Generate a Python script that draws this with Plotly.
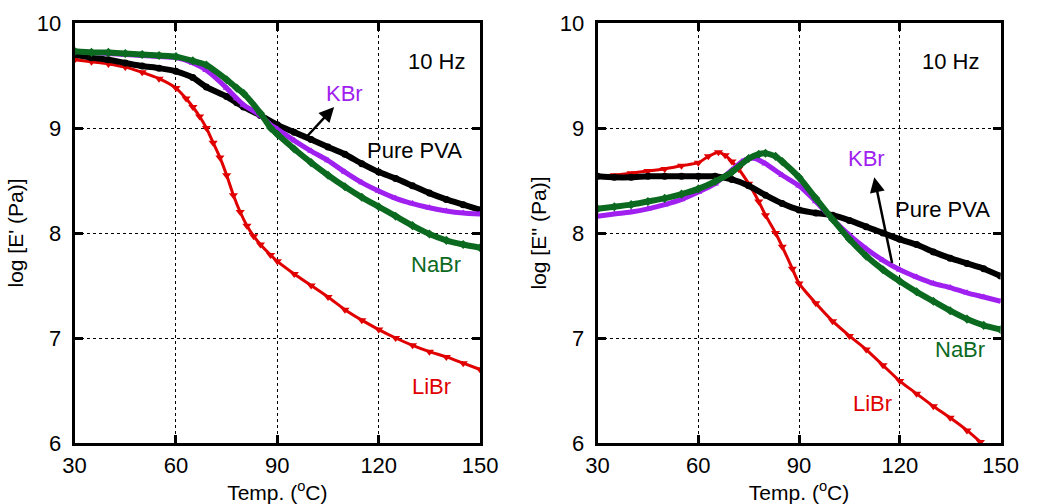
import plotly.graph_objects as go

# ---------------- data ----------------
# Left panel: log E'
pva_T1 = [30, 35, 40, 45, 50, 55, 60, 65, 69, 75, 78, 80, 85, 90, 95, 100, 105, 110, 115, 120, 125, 130, 135, 140, 145, 150]
pva_E1 = [9.70, 9.67, 9.65, 9.62, 9.59, 9.57, 9.54, 9.48, 9.39, 9.30, 9.24, 9.20, 9.12, 9.03, 8.96, 8.89, 8.82, 8.75, 8.66, 8.58, 8.52, 8.45, 8.38, 8.32, 8.27, 8.22]

na_T1 = [30, 35, 40, 45, 50, 55, 60, 65, 69, 75, 78, 80, 85, 88, 90, 95, 100, 105, 110, 115, 120, 125, 130, 135, 140, 145, 150]
na_E1 = [9.73, 9.72, 9.72, 9.71, 9.70, 9.69, 9.68, 9.64, 9.60, 9.46, 9.38, 9.33, 9.14, 9.00, 8.94, 8.80, 8.67, 8.55, 8.44, 8.34, 8.25, 8.16, 8.07, 7.99, 7.93, 7.89, 7.86]

k_T1 = [30, 35, 40, 45, 50, 55, 60, 65, 69, 75, 78, 80, 85, 88, 90, 95, 100, 105, 110, 115, 120, 125, 130, 135, 140, 145, 150]
k_E1 = [9.73, 9.72, 9.71, 9.70, 9.69, 9.68, 9.67, 9.62, 9.55, 9.38, 9.28, 9.22, 9.12, 9.03, 8.99, 8.88, 8.78, 8.69, 8.58, 8.48, 8.40, 8.33, 8.28, 8.24, 8.21, 8.19, 8.18]

li_T1 = [30, 35, 40, 45, 50, 55, 60, 63, 65, 67, 69, 71, 73, 75, 77, 79, 81, 83, 85, 88, 90, 95, 100, 105, 110, 115, 120, 125, 130, 135, 140, 145, 150]
li_E1 = [9.65, 9.63, 9.61, 9.58, 9.53, 9.47, 9.38, 9.28, 9.20, 9.11, 9.00, 8.86, 8.72, 8.55, 8.36, 8.20, 8.07, 7.97, 7.89, 7.79, 7.73, 7.61, 7.50, 7.39, 7.27, 7.17, 7.08, 7.00, 6.93, 6.87, 6.82, 6.76, 6.70]

# Right panel: log E''
pva_T2 = [30, 35, 40, 45, 50, 55, 60, 65, 70, 75, 80, 85, 90, 95, 100, 105, 110, 115, 120, 125, 130, 135, 140, 145, 150]
pva_E2 = [8.54, 8.53, 8.53, 8.54, 8.54, 8.54, 8.54, 8.54, 8.51, 8.45, 8.36, 8.28, 8.22, 8.19, 8.17, 8.12, 8.06, 8.00, 7.94, 7.89, 7.82, 7.76, 7.71, 7.66, 7.59]

na_T2 = [30, 35, 40, 45, 50, 55, 60, 65, 70, 75, 78, 80, 83, 85, 90, 95, 100, 105, 110, 115, 120, 125, 130, 135, 140, 145, 150]
na_E2 = [8.23, 8.25, 8.27, 8.30, 8.33, 8.37, 8.42, 8.49, 8.58, 8.71, 8.75, 8.76, 8.73, 8.68, 8.53, 8.33, 8.13, 7.94, 7.78, 7.65, 7.54, 7.44, 7.35, 7.26, 7.18, 7.12, 7.08]

k_T2 = [30, 35, 40, 45, 50, 55, 60, 65, 70, 73, 75, 77, 80, 85, 90, 95, 100, 105, 110, 115, 120, 125, 130, 135, 140, 145, 150]
k_E2 = [8.16, 8.18, 8.20, 8.23, 8.27, 8.32, 8.39, 8.47, 8.60, 8.68, 8.71, 8.71, 8.66, 8.55, 8.45, 8.30, 8.13, 7.98, 7.85, 7.74, 7.65, 7.58, 7.52, 7.48, 7.43, 7.39, 7.35]

li_T2 = [30, 35, 40, 45, 50, 55, 60, 63, 66, 68, 70, 72, 75, 78, 80, 83, 85, 88, 90, 95, 100, 105, 110, 115, 120, 125, 130, 135, 140, 144]
li_E2 = [8.54, 8.55, 8.57, 8.59, 8.61, 8.64, 8.67, 8.73, 8.77, 8.74, 8.68, 8.61, 8.47, 8.30, 8.17, 8.00, 7.87, 7.66, 7.52, 7.33, 7.16, 7.02, 6.89, 6.74, 6.59, 6.47, 6.35, 6.24, 6.12, 6.01]

x_ticks = [30, 60, 90, 120, 150]
y_ticks = [6, 7, 8, 9, 10]

BLACK = "#000000"
GREEN = "#0b6a1f"
PURPLE = "#a020f0"
RED = "#e00000"
FONT = "Liberation Sans, Arial, sans-serif"
FS = 22

fig = go.Figure()

def add(T, E, color, symbol, msize, lw, xa, ya):
    fig.add_trace(go.Scatter(
        x=T, y=E, mode="lines+markers", xaxis=xa, yaxis=ya,
        line=dict(color=color, width=lw, shape="spline", smoothing=0.6),
        marker=dict(color=color, symbol=symbol, size=msize),
        showlegend=False, cliponaxis=True))

for xa, ya, sets in [
    ("x", "y", [(li_T1, li_E1, RED, "triangle-down", 8, 3),
                (pva_T1, pva_E1, BLACK, "circle", 7, 6),
                (k_T1, k_E1, PURPLE, "triangle-up", 7, 5),
                (na_T1, na_E1, GREEN, "diamond", 7, 6)]),
    ("x2", "y2", [(li_T2, li_E2, RED, "triangle-down", 8, 3),
                  (pva_T2, pva_E2, BLACK, "circle", 7, 6),
                  (k_T2, k_E2, PURPLE, "triangle-up", 7, 5),
                  (na_T2, na_E2, GREEN, "diamond", 7, 6)]),
]:
    for T, E, c, s, ms, lw in sets:
        add(T, E, c, s, ms, lw, xa, ya)

axis_common = dict(
    showline=True, linecolor="black", linewidth=3, mirror="ticks",
    ticks="inside", ticklen=8, tickwidth=3, tickcolor="black",
    showgrid=True, gridcolor="black", gridwidth=1, griddash="dot",
    zeroline=False, tickfont=dict(family=FONT, size=FS, color="black"),
)

xt = dict(axis_common, range=[30, 150], tickvals=x_ticks, ticktext=[str(v) for v in x_ticks],
          ticklabelstandoff=1,
          title=dict(text="Temp. (<sup>o</sup>C)", font=dict(family=FONT, size=FS - 1, color="black"), standoff=4))
yt = dict(axis_common, range=[6, 10], tickvals=y_ticks, ticktext=[str(v) for v in y_ticks],
          ticklabelstandoff=6)

fig.update_layout(
    width=1038, height=504,
    margin=dict(l=0, r=0, t=23, b=61),
    paper_bgcolor="white", plot_bgcolor="white",
    xaxis=dict(xt, domain=[0.0621, 0.4644], anchor="y"),
    yaxis=dict(yt, domain=[0, 1], anchor="x",
               title=dict(text="log [E' (Pa)]", font=dict(family=FONT, size=FS - 1, color="black"), standoff=8)),
    xaxis2=dict(xt, domain=[0.5809, 0.9807], anchor="y2"),
    yaxis2=dict(yt, domain=[0, 1], anchor="x2",
                title=dict(text="log [E'' (Pa)]", font=dict(family=FONT, size=FS - 1, color="black"), standoff=8)),
)

def label(text, x, y, color, xref, yref):
    fig.add_annotation(text=text, x=x, y=y, xref=xref, yref=yref, showarrow=False,
                       font=dict(family=FONT, size=FS, color=color))

def arrow(x0, y0, x1, y1, xref, yref):
    fig.add_annotation(x=x1, y=y1, ax=x0, ay=y0, xref=xref, yref=yref, axref=xref, ayref=yref,
                       text="", showarrow=True, arrowhead=2, arrowsize=1.2, arrowwidth=2.5, arrowcolor="black")

# left panel labels
label("10 Hz", 137, 9.63, "black", "x", "y")
label("KBr", 110, 9.33, PURPLE, "x", "y")
label("Pure PVA", 130.7, 8.79, "black", "x", "y")
label("NaBr", 137, 7.70, GREEN, "x", "y")
label("LiBr", 135.5, 6.54, RED, "x", "y")
arrow(98.2, 8.90, 106.8, 9.20, "x", "y")

# right panel labels
label("10 Hz", 135, 9.63, "black", "x2", "y2")
label("KBr", 110.1, 8.71, PURPLE, "x2", "y2")
label("Pure PVA", 132.6, 8.22, "black", "x2", "y2")
label("NaBr", 138, 6.89, GREEN, "x2", "y2")
label("LiBr", 112, 6.38, RED, "x2", "y2")
arrow(117.8, 7.70, 112.4, 8.53, "x2", "y2")

fig.write_html("out.html")
